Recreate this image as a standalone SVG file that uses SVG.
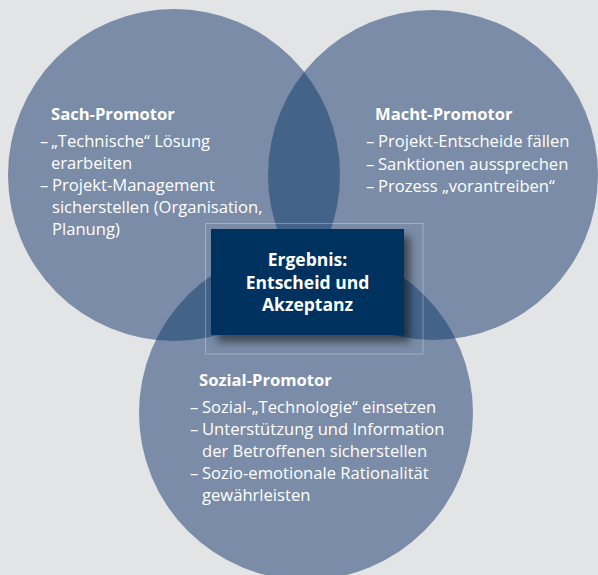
<svg xmlns="http://www.w3.org/2000/svg" width="598" height="575" viewBox="0 0 598 575">
  <style>
    .circle { fill: #7a8ca7; }
    .overlap { fill: #436389; }
    .title { font-family: "Open Sans", "Liberation Sans", sans-serif; font-weight: 700; font-size: 16.6px; fill: #ffffff; }
    .body { font-family: "Open Sans", "Liberation Sans", sans-serif; font-size: 16.6px; fill: #ffffff; }
    .box-text { font-family: "Open Sans", "Liberation Sans", sans-serif; font-weight: 700; font-size: 17.5px; fill: #ffffff; text-anchor: middle; }
  </style>
  <defs>
    <clipPath id="clipSach"><circle cx="174" cy="175" r="166"/></clipPath>
    <clipPath id="clipMacht"><circle cx="433" cy="175" r="165"/></clipPath>
    <filter id="boxShadow" x="-20%" y="-20%" width="150%" height="160%">
      <feGaussianBlur in="SourceAlpha" stdDeviation="4"/>
      <feOffset dx="6" dy="7" result="blur"/>
      <feComponentTransfer><feFuncA type="linear" slope="0.5"/></feComponentTransfer>
      <feMerge><feMergeNode/><feMergeNode in="SourceGraphic"/></feMerge>
    </filter>
  </defs>

  <rect x="0" y="0" width="598" height="575" fill="#e3e4e6"/>

  <!-- base circles -->
  <g id="sach">
    <circle class="circle" cx="174" cy="175" r="166"/>
  </g>
  <g id="macht">
    <circle class="circle" cx="433" cy="175" r="165"/>
  </g>
  <g id="sozial">
    <circle class="circle" cx="306" cy="413" r="167"/>
  </g>

  <!-- darker areas where two circles overlap -->
  <g id="overlaps">
    <circle class="overlap" cx="433" cy="175" r="165" clip-path="url(#clipSach)"/>
    <circle class="overlap" cx="306" cy="413" r="167" clip-path="url(#clipSach)"/>
    <circle class="overlap" cx="306" cy="413" r="167" clip-path="url(#clipMacht)"/>
  </g>

  <!-- circle texts -->
  <g id="sach-text">
    <text class="title" x="51" y="120">Sach-Promotor</text>
    <text class="body" x="40" y="147">–</text>
    <text class="body" x="51" y="147">„Technische“ Lösung</text>
    <text class="body" x="51" y="169">erarbeiten</text>
    <text class="body" x="40" y="191">–</text>
    <text class="body" x="52" y="191">Projekt-Management</text>
    <text class="body" x="52" y="213">sicherstellen (Organisation,</text>
    <text class="body" x="52" y="235">Planung)</text>
  </g>
  <g id="macht-text">
    <text class="title" x="375" y="120">Macht-Promotor</text>
    <text class="body" x="366" y="147">–</text>
    <text class="body" x="378" y="147">Projekt-Entscheide fällen</text>
    <text class="body" x="366" y="169.5">–</text>
    <text class="body" x="378" y="169.5">Sanktionen aussprechen</text>
    <text class="body" x="366" y="192">–</text>
    <text class="body" x="378" y="192">Prozess „vorantreiben“</text>
  </g>
  <g id="sozial-text">
    <text class="title" x="199" y="386">Sozial-Promotor</text>
    <text class="body" x="190" y="413">–</text>
    <text class="body" x="202" y="413">Sozial-„Technologie“ einsetzen</text>
    <text class="body" x="190" y="435">–</text>
    <text class="body" x="202" y="435">Unterstützung und Information</text>
    <text class="body" x="202" y="457">der Betroffenen sicherstellen</text>
    <text class="body" x="190" y="479">–</text>
    <text class="body" x="202" y="479">Sozio-emotionale Rationalität</text>
    <text class="body" x="202" y="501">gewährleisten</text>
  </g>

  <!-- result box -->
  <g id="ergebnis">
    <rect x="205.5" y="223.5" width="217.5" height="130.5" fill="none" stroke="#ffffff" stroke-opacity="0.3" stroke-width="1"/>
    <rect x="211" y="229" width="193" height="106" fill="#00305e" filter="url(#boxShadow)"/>
    <text class="box-text" x="307.5" y="266">Ergebnis:</text>
    <text class="box-text" x="307.5" y="289">Entscheid und</text>
    <text class="box-text" x="307.5" y="311">Akzeptanz</text>
  </g>
</svg>
